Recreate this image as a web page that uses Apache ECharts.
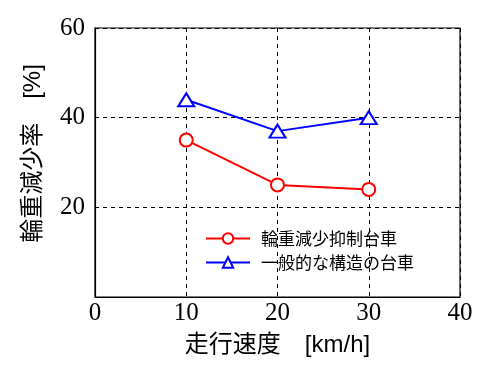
<!DOCTYPE html>
<html><head><meta charset="utf-8">
<script src="https://cdn.jsdelivr.net/npm/echarts@6/dist/echarts.min.js"></script>
<style>html,body{margin:0;padding:0;background:#fff}#c{width:500px;height:380px}</style>
</head><body><div id="c"></div>
<script>
const speeds = [10, 20, 30];
const seriesNames = ['輪重減少抑制台車', '一般的な構造の台車'];
const suppressed = [35, 25, 24];
const conventional = [44, 37, 40];
const xTicks = [0, 10, 20, 30, 40];
const yTicks = [0, 20, 40, 60];

const chart = echarts.init(document.getElementById('c'), null, {renderer: 'canvas'});
const serif = '"Liberation Serif", "Times New Roman", serif';
const jp = '"Liberation Sans", "Noto Sans CJK JP", sans-serif';
chart.setOption({
  animation: false,
  backgroundColor: '#fff',
  grid: {left: 95, right: 40, top: 28, bottom: 83, show: true, borderColor: '#000', borderWidth: 1.2, backgroundColor: 'transparent'},
  legend: {
    orient: 'vertical', left: 205, top: 230, padding: 0, itemWidth: 44, itemHeight: 13, itemGap: 7,
    textStyle: {fontFamily: '"Noto Sans CJK JP", sans-serif', fontSize: 17, color: '#000', padding: [0,0,0,6]},
    data: seriesNames
  },
  xAxis: {
    type: 'value', min: xTicks[0], max: xTicks[xTicks.length-1], interval: 10,
    name: '走行速度\u3000[km/h]', nameLocation: 'middle', nameGap: 36,
    nameTextStyle: {fontFamily: jp, fontSize: 24, color: '#000'},
    axisLine: {show: true, lineStyle: {color: '#000', width: 1.2}},
    axisTick: {show: false},
    axisLabel: {fontFamily: serif, fontSize: 25, color: '#000', margin: 4},
    splitLine: {show: true, lineStyle: {color: '#000', type: [4, 4], width: 1}}
  },
  yAxis: {
    type: 'value', min: yTicks[0], max: yTicks[yTicks.length-1], interval: 20,
    name: '輪重減少率\u3000[%]', nameLocation: 'middle', nameGap: 50, nameRotate: 90,
    nameTextStyle: {fontFamily: jp, fontSize: 24, color: '#000', padding: [0, 0, 0, 18]},
    axisLine: {show: true, lineStyle: {color: '#000', width: 1.2}},
    axisTick: {show: false},
    axisLabel: {fontFamily: serif, fontSize: 25, color: '#000', margin: 10,
      formatter: v => v === 0 ? '' : String(v)},
    splitLine: {show: true, lineStyle: {color: '#000', type: [4, 4], width: 1}}
  },
  series: [
    {name: seriesNames[0], type: 'line', data: speeds.map((x, i) => [x, suppressed[i]]),
     symbol: 'circle', symbolSize: 13,
     lineStyle: {color: '#ff0000', width: 2},
     itemStyle: {color: '#fff', borderColor: '#ff0000', borderWidth: 2}},
    {name: seriesNames[1], type: 'line', data: speeds.map((x, i) => [x, conventional[i]]),
     symbol: 'triangle', symbolSize: [16, 13],
     lineStyle: {color: '#0000ff', width: 2},
     itemStyle: {color: '#fff', borderColor: '#0000ff', borderWidth: 2}}
  ]
});
</script></body></html>
